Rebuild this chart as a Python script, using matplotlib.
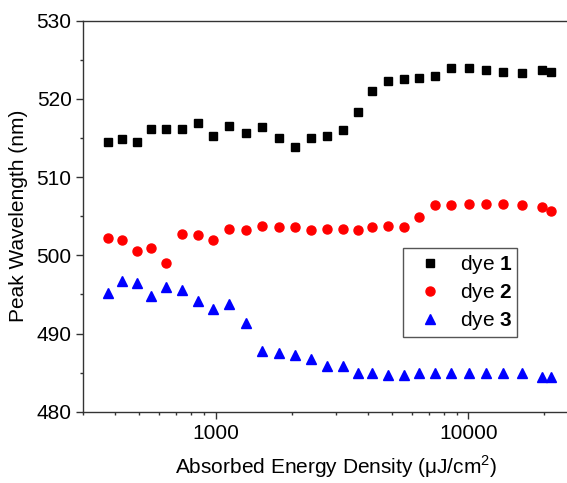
import matplotlib
matplotlib.use("Agg")
import matplotlib.pyplot as plt
from matplotlib.ticker import LogLocator, FixedLocator, MultipleLocator, FuncFormatter, NullFormatter

plt.rcParams['font.family'] = ['Liberation Sans', 'DejaVu Sans']
plt.rcParams['mathtext.fontset'] = 'custom'
plt.rcParams['mathtext.rm'] = 'Liberation Sans'
plt.rcParams['mathtext.bf'] = 'Liberation Sans:bold'

# Energy density (uJ/cm^2)
energy = [376, 428, 487, 556, 637, 736, 849, 978, 1132, 1318, 1529, 1776,
          2061, 2391, 2758, 3184, 3649, 4169, 4824, 5550, 6379, 7362, 8565,
          10037, 11750, 13760, 16360, 19630, 21190]

# Peak wavelength (nm)
dye1 = [514.5, 514.9, 514.5, 516.2, 516.2, 516.2, 516.9, 515.2, 516.6, 515.7,
        516.4, 515.0, 513.9, 515.0, 515.3, 516.0, 518.3, 521.0, 522.3, 522.5,
        522.7, 522.9, 524.0, 524.0, 523.7, 523.5, 523.3, 523.7, 523.5]
dye2 = [502.2, 501.9, 500.5, 500.9, 499.0, 502.7, 502.6, 501.9, 503.4, 503.3,
        503.7, 503.6, 503.6, 503.3, 503.4, 503.4, 503.3, 503.6, 503.7, 503.6,
        504.9, 506.4, 506.4, 506.5, 506.5, 506.5, 506.4, 506.2, 505.7]
dye3 = [495.2, 496.7, 496.4, 494.8, 495.9, 495.6, 494.2, 493.1, 493.8, 491.4,
        487.7, 487.5, 487.3, 486.7, 485.9, 485.8, 485.0, 484.9, 484.7, 484.7,
        484.9, 484.9, 484.9, 485.0, 485.0, 485.0, 484.9, 484.5, 484.5]

fig = plt.figure(figsize=(5.67, 4.83), dpi=100)
ax = fig.add_axes([0.147, 0.1476, 0.8915, 0.8095])

ax.plot(energy, dye1, 's', color='black', ms=6, label=r'dye $\mathbf{1}$')
ax.plot(energy, dye2, 'o', color='red', ms=6.5, label=r'dye $\mathbf{2}$')
ax.plot(energy, dye3, '^', color='blue', ms=7, label=r'dye $\mathbf{3}$')

ax.set_xscale('log')
ax.set_xlim(300, 30000)
ax.set_ylim(480, 530)

ax.xaxis.set_major_locator(FixedLocator([1000, 10000]))
ax.xaxis.set_major_formatter(FuncFormatter(lambda v, p: '%d' % v))
ax.xaxis.set_minor_locator(LogLocator(base=10, subs=range(2, 10)))
ax.xaxis.set_minor_formatter(NullFormatter())
ax.yaxis.set_major_locator(MultipleLocator(10))
ax.yaxis.set_minor_locator(MultipleLocator(5))

ax.tick_params(which='major', direction='out', length=5, width=1, labelsize=15,
               color='#333333')
ax.tick_params(which='minor', direction='out', length=2.5, width=1, color='#333333')
ax.tick_params(top=False, right=False, which='both')
for s in ax.spines.values():
    s.set_color('#333333')
    s.set_linewidth(1)

ax.set_xlabel('Absorbed Energy Density (\u03bcJ/cm$^2$)', fontsize=15, labelpad=8)
ax.set_ylabel('Peak Wavelength (nm)', fontsize=15, labelpad=6)

leg = ax.legend(loc='upper left', bbox_to_anchor=(0.710, 0.486),
                bbox_transform=fig.transFigure, borderaxespad=0,
                fontsize=15, fancybox=False, framealpha=1, edgecolor='#555555',
                handletextpad=0.35, labelspacing=0.25, borderpad=0.22,
                handlelength=2.2)
leg.get_frame().set_linewidth(1)

fig.savefig('out.png', dpi=100)
